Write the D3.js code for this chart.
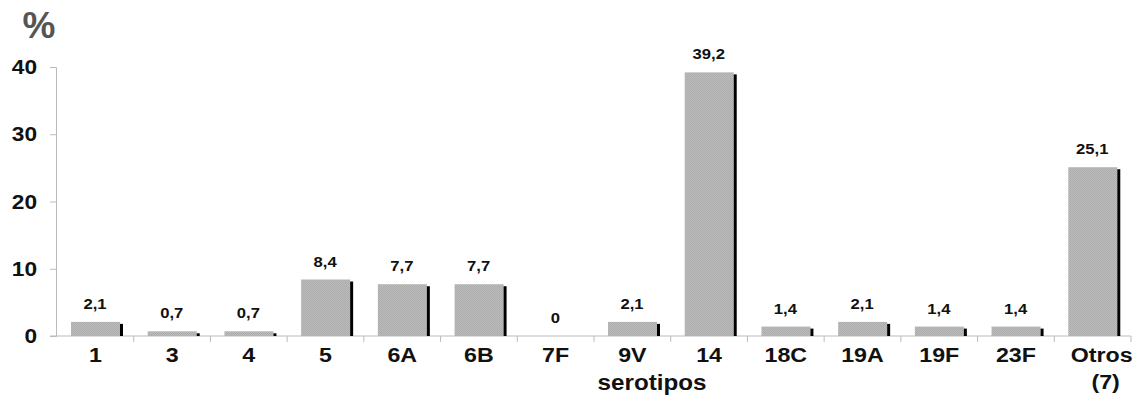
<!DOCTYPE html>
<html><head><meta charset="utf-8">
<script src="https://cdn.jsdelivr.net/npm/d3@7"></script>
<style>body{margin:0;background:#fff}svg{display:block}text{font-family:"Liberation Sans",Arial,sans-serif;font-weight:bold}</style>
</head><body>
<svg id="c" width="1141" height="399"></svg>
<script>
const categories = ["1","3","4","5","6A","6B","7F","9V","14","18C","19A","19F","23F","Otros (7)"];
const values = [2.1,0.7,0.7,8.4,7.7,7.7,0,2.1,39.2,1.4,2.1,1.4,1.4,25.1];
const valueLabels = ["2,1","0,7","0,7","8,4","7,7","7,7","0","2,1","39,2","1,4","2,1","1,4","1,4","25,1"];
const yTicks = [0,10,20,30,40];

const SX = 1.19; // horizontal stretch of the original picture's text
const svg = d3.select("#c");
const defs = svg.append("defs");
const pat = defs.append("pattern").attr("id","hatch").attr("patternUnits","userSpaceOnUse").attr("width",2).attr("height",2);
pat.append("rect").attr("width",2).attr("height",2).attr("fill","#bcbcbc");
pat.append("rect").attr("width",1).attr("height",1).attr("fill","#acacac");
pat.append("rect").attr("x",1).attr("y",1).attr("width",1).attr("height",1).attr("fill","#acacac");

const x = d3.scaleBand().domain(categories).range([57,1131]);
const y = d3.scaleLinear().domain([0,40]).range([336,67]);

function stext(px, py, size, txt, anchor, fill, sx){
  return svg.append("text").attr("transform",`translate(${px},${py}) scale(${sx||SX},1)`)
    .attr("text-anchor",anchor||"middle").attr("font-size",size).attr("fill",fill||"#111").text(txt);
}

// y axis
const ya = svg.append("g").attr("transform","translate(56,0)")
  .call(d3.axisLeft(y).tickValues(yTicks).tickSize(6).tickFormat(""));
ya.select(".domain").attr("stroke","#bbb");
ya.selectAll(".tick line").attr("stroke","#bbb");
yTicks.forEach(t=>stext(37, y(t)+7, 21, String(t), "end", "#111", 1.08));

// x axis line + ticks at band boundaries
svg.append("line").attr("x1",50).attr("x2",1131).attr("y1",y(0)).attr("y2",y(0)).attr("stroke","#bbb");
const bounds = categories.slice(1).map(c=>x(c)).concat([1131]);
svg.selectAll(".xt").data(bounds).enter().append("line")
  .attr("x1",d=>d).attr("x2",d=>d).attr("y1",y(0)).attr("y2",y(0)+6).attr("stroke","#bbb");

// bars
const g = svg.append("g");
categories.forEach((c,i)=>{
  const v = values[i];
  const x0 = x(c)+14;
  if (v>0){
    g.append("rect").attr("x",x0).attr("y",y(v)).attr("width",49).attr("height",y(0)-y(v)).attr("fill","url(#hatch)");
    const top = Math.min(y(v)+2, y(0)-2);
    g.append("rect").attr("x",x0+49).attr("y",top).attr("width",3).attr("height",y(0)-top).attr("fill","#000");
  }
  stext(x0+24, y(v)-13, 14, valueLabels[i], "middle", "#111");
});

// category labels
categories.forEach(c=>{
  const parts = c.split(" ");
  const cx = x(c)+x.bandwidth()/2 + (parts.length>1 ? 9 : 0);
  parts.forEach((p,j)=>stext(cx + (j>0?4:0), 362+j*27, 19.5, p, "middle", "#111"));
});

stext(652, 390, 22, "serotipos", "middle", "#111", 1.1);
stext(39, 38, 37, "%", "middle", "#555", 1.0);
</script>
</body></html>
